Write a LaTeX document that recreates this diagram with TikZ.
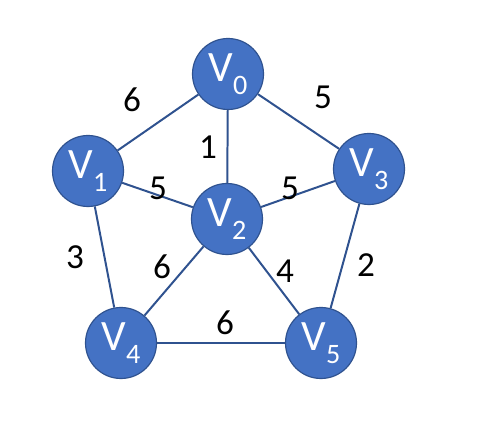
\documentclass[tikz,border=0pt]{standalone}
\usepackage{fontspec}
\setmainfont{Carlito}
\definecolor{vfill}{HTML}{4472C4}
\definecolor{vline}{HTML}{2F528F}
\newcommand{\vname}[1]{V\raisebox{-0.3em}{\fontsize{24}{26}\selectfont #1}}
\tikzset{
  vertex/.style={circle, fill=vfill, draw=vline, line width=1pt, minimum size=2.13cm,
    inner sep=0pt, text=white, font=\fontsize{37}{40}\selectfont},
  edge/.style={draw=vline, line width=1.7pt},
  weight/.style={font=\fontsize{30}{32}\selectfont, inner sep=0pt}
}

\begin{document}
\begin{tikzpicture}[x=0.03cm, y=-0.03cm]
    \useasboundingbox (0,0) rectangle (499,430);

    % vertices
    \node[vertex] (v0) at (228,74)  {\vname{0}};
    \node[vertex] (v1) at (88,171)  {\vname{1}};
    \node[vertex] (v2) at (227,219) {\vname{2}};
    \node[vertex] (v3) at (369,169) {\vname{3}};
    \node[vertex] (v4) at (121,343) {\vname{4}};
    \node[vertex] (v5) at (321,343) {\vname{5}};

    % edges
    \draw[edge] (v0) -- (v1);
    \draw[edge] (v0) -- (v2);
    \draw[edge] (v0) -- (v3);
    \draw[edge] (v1) -- (v2);
    \draw[edge] (v3) -- (v2);
    \draw[edge] (v1) -- (v4);
    \draw[edge] (v2) -- (v4);
    \draw[edge] (v2) -- (v5);
    \draw[edge] (v3) -- (v5);
    \draw[edge] (v4) -- (v5);

    % weights
    \node[weight] (w01) at (132,100) {6};
    \node[weight] (w03) at (323,97)  {5};
    \node[weight] (w02) at (208,147) {1};
    \node[weight] (w12) at (158,188) {5};
    \node[weight] (w32) at (290,188) {5};
    \node[weight] (w14) at (75,257)  {3};
    \node[weight] (w24) at (162,267) {6};
    \node[weight] (w25) at (285,271) {4};
    \node[weight] (w35) at (366,265) {2};
    \node[weight] (w45) at (225,323) {6};
\end{tikzpicture}
\end{document}
